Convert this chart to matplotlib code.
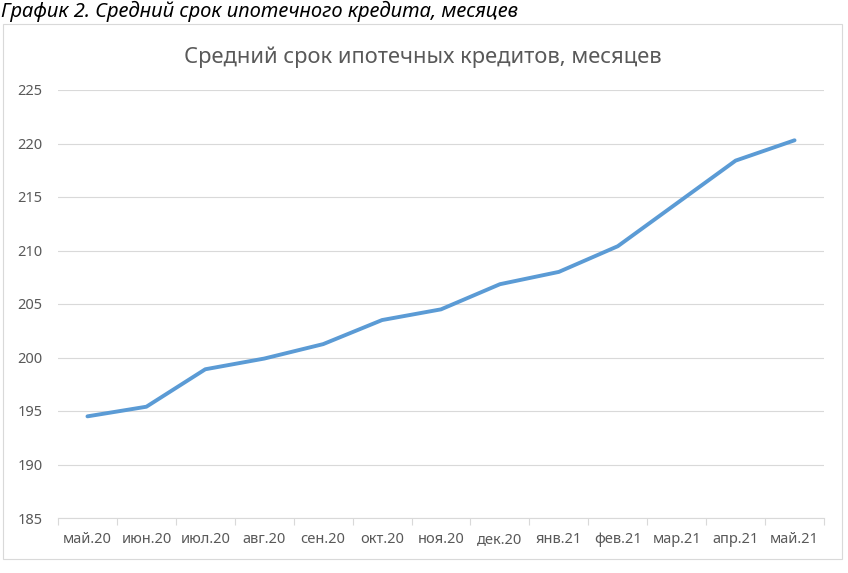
import matplotlib
matplotlib.use("Agg")
import matplotlib.pyplot as plt
from matplotlib.patches import Rectangle

plt.rcParams['font.family'] = ['Noto Sans', 'DejaVu Sans']

months = ['май.20', 'июн.20', 'июл.20', 'авг.20', 'сен.20', 'окт.20', 'ноя.20',
          'дек.20', 'янв.21', 'фев.21', 'мар.21', 'апр.21', 'май.21']
term = [194.5, 195.4, 198.9, 199.9, 201.25, 203.5, 204.5,
        206.85, 208.0, 210.4, 214.4, 218.4, 220.3]
yticks = [185, 190, 195, 200, 205, 210, 215, 220, 225]

fig = plt.figure(figsize=(8.48, 5.73), dpi=100)
W, H = 848, 573

# chart frame
fig.patches.append(Rectangle((3 / W, 1 - 559 / H), 839 / W, 535 / H,
                             transform=fig.transFigure, fill=False,
                             edgecolor='#d9d9d9', linewidth=0.8))
fig.text(1 / W, 1 - 11 / H, 'График 2. Средний срок ипотечного кредита, месяцев',
         fontsize=14.5, style='italic', color='black', va='center', ha='left')

ax = fig.add_axes([58 / W, 1 - 518 / H, (824 - 58) / W, (518 - 90) / H])
x = range(len(months))
ax.plot(x, term, color='#5B9BD5', linewidth=2.8, solid_capstyle='round',
        solid_joinstyle='round', zorder=3)

ax.set_xlim(-0.5, len(months) - 0.5)
ax.set_ylim(185, 225)
ax.set_yticks(yticks)
ax.set_xticks(list(x))
ax.set_xticklabels(months)
ax.set_xticks([i - 0.5 for i in range(len(months) + 1)], minor=True)
ax.tick_params(axis='x', which='major', length=0, pad=10, labelsize=10.5, colors='#595959')
ax.tick_params(axis='x', which='minor', length=5, color='#d9d9d9', width=0.8)
ax.tick_params(axis='y', length=0, pad=11, labelsize=10.5, colors='#595959')

ax.grid(axis='y', color='#d9d9d9', linewidth=0.8)
ax.set_axisbelow(True)
for side in ['top', 'right', 'left']:
    ax.spines[side].set_visible(False)
ax.spines['bottom'].set_color('#d9d9d9')
ax.spines['bottom'].set_linewidth(0.8)

fig.text(423 / W, 1 - 57 / H, 'Средний срок ипотечных кредитов, месяцев',
         fontsize=15.8, color='#595959', ha='center', va='center')

fig.savefig('out.png', dpi=100)
